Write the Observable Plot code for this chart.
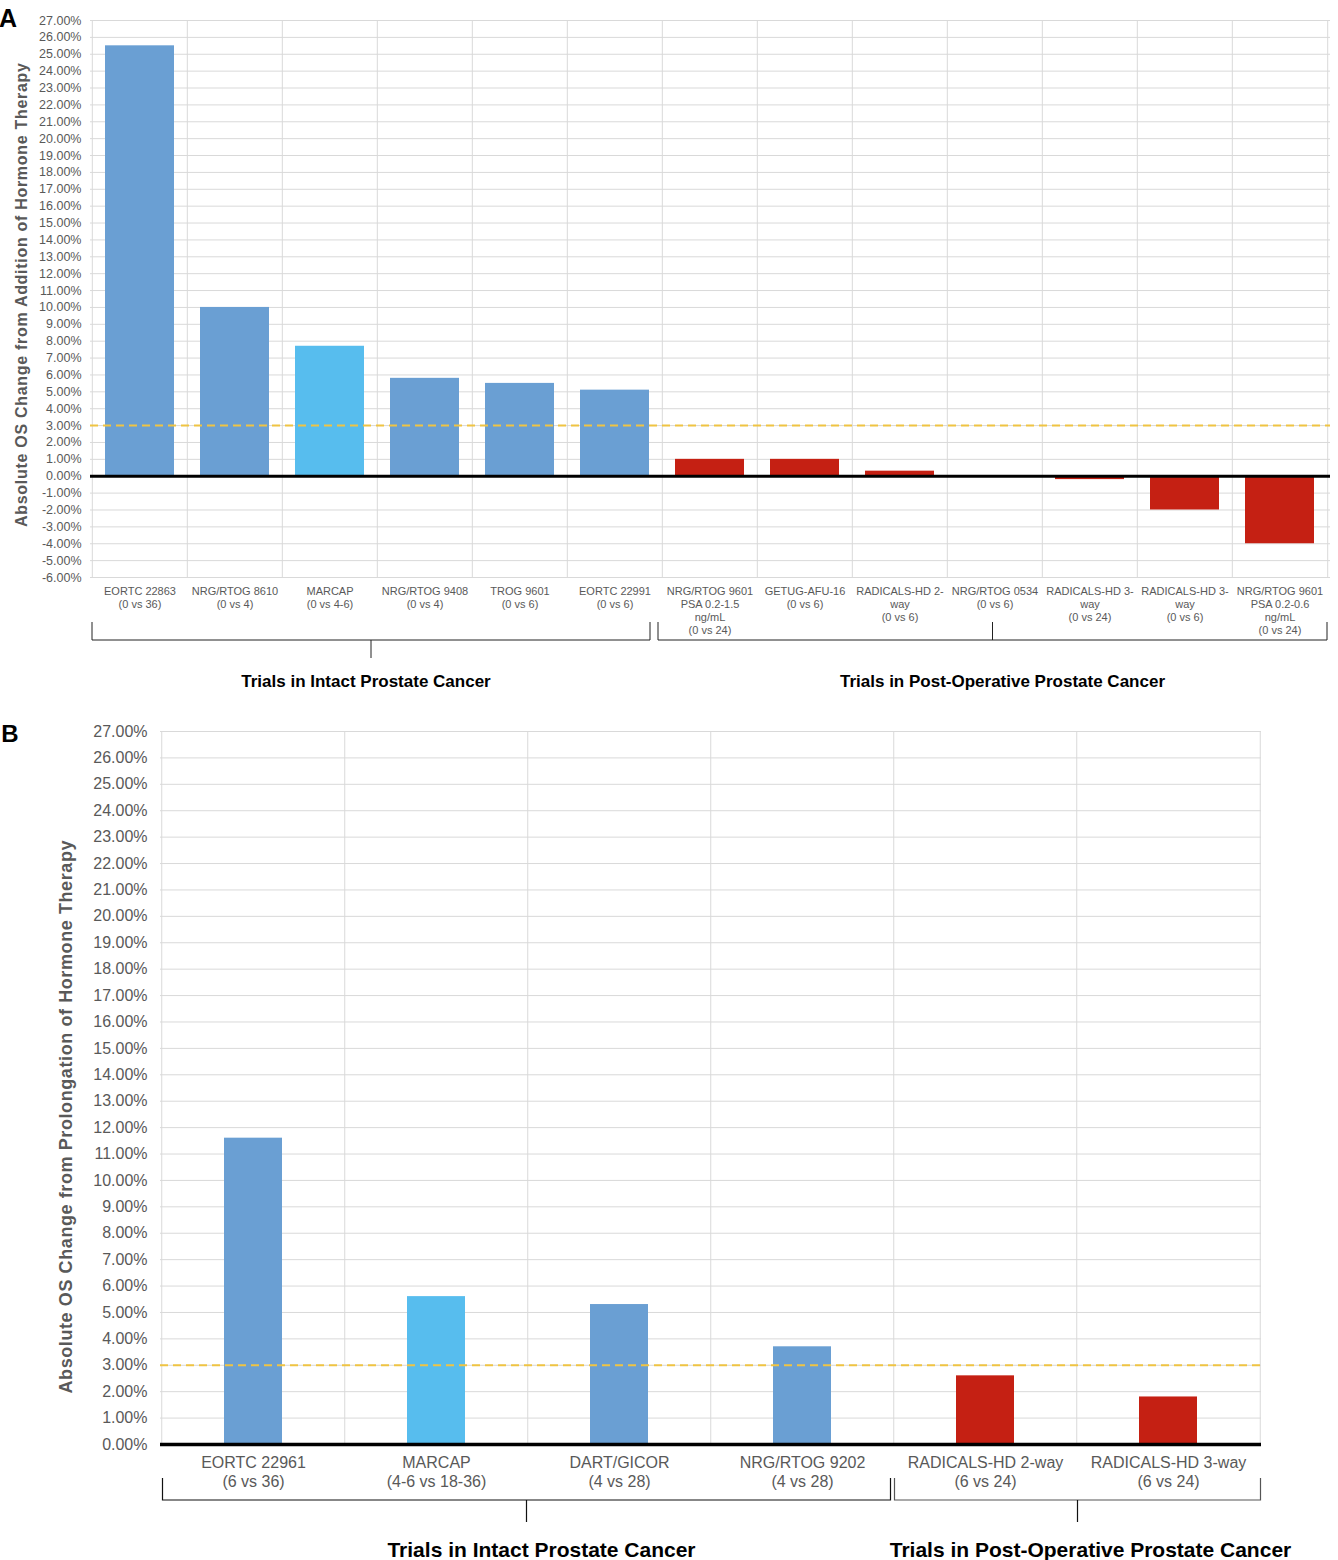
<!DOCTYPE html>
<html><head><meta charset="utf-8">
<script src="https://cdn.jsdelivr.net/npm/d3@7"></script>
<script src="https://cdn.jsdelivr.net/npm/@observablehq/plot@0.6"></script>
<style>
body{margin:0;background:#fff;font-family:"Liberation Sans",Arial,sans-serif;}
#wrap{position:relative;width:1338px;height:1560px;overflow:hidden;}
#a{position:absolute;left:0;top:0;}
#b{position:absolute;left:0;top:700px;}
</style></head><body><div id="wrap"><div id="a"></div><div id="b"></div></div>
<script>
// ---------- Panel A data ----------
const labelsA = [
  "EORTC 22863\n(0 vs 36)",
  "NRG/RTOG 8610\n(0 vs 4)",
  "MARCAP\n(0 vs 4-6)",
  "NRG/RTOG 9408\n(0 vs 4)",
  "TROG 9601\n(0 vs 6)",
  "EORTC 22991\n(0 vs 6)",
  "NRG/RTOG 9601\nPSA 0.2-1.5\nng/mL\n(0 vs 24)",
  "GETUG-AFU-16\n(0 vs 6)",
  "RADICALS-HD 2-\nway\n(0 vs 6)",
  "NRG/RTOG 0534\n(0 vs 6)",
  "RADICALS-HD 3-\nway\n(0 vs 24)",
  "RADICALS-HD 3-\nway\n(0 vs 6)",
  "NRG/RTOG 9601\nPSA 0.2-0.6\nng/mL\n(0 vs 24)"
];
const valuesA = [25.5, 10.0, 7.7, 5.8, 5.5, 5.1, 1.0, 1.0, 0.3, 0.0, -0.2, -2.0, -4.0];
const kindA = ["intact","intact","marcap","intact","intact","intact","postop","postop","postop","postop","postop","postop","postop"];
const yTicksA = [-6,-5,-4,-3,-2,-1,0,1,2,3,4,5,6,7,8,9,10,11,12,13,14,15,16,17,18,19,20,21,22,23,24,25,26,27];
const titleA = "Absolute OS Change from Addition of Hormone Therapy";
const groupLabels = ["Trials in Intact Prostate Cancer", "Trials in Post-Operative Prostate Cancer"];

// ---------- Panel B data ----------
const labelsB = [
  "EORTC 22961\n(6 vs 36)",
  "MARCAP\n(4-6 vs 18-36)",
  "DART/GICOR\n(4 vs 28)",
  "NRG/RTOG 9202\n(4 vs 28)",
  "RADICALS-HD 2-way\n(6 vs 24)",
  "RADICALS-HD 3-way\n(6 vs 24)"
];
const valuesB = [11.6, 5.6, 5.3, 3.7, 2.6, 1.8];
const kindB = ["intact","marcap","intact","intact","postop","postop"];
const yTicksB = [0,1,2,3,4,5,6,7,8,9,10,11,12,13,14,15,16,17,18,19,20,21,22,23,24,25,26,27];
const titleB = "Absolute OS Change from Prolongation of Hormone Therapy";

const threshold = [3];
const colorDomain = ["intact","marcap","postop"];
const colorRange = ["#6a9fd3","#57bdee","#c52013"];
const FONT = "'Liberation Sans', Arial, sans-serif";
const W = 1338;

function cellEdges(plot, labels){
  const xs = plot.scale("x");
  const bw = xs.bandwidth, st = xs.step;
  return labels.map(l => {
    const s = xs.apply(l);
    return [s - (st - bw)/2, s + bw + (st - bw)/2];
  });
}

// ---------- Panel A ----------
const mA = {top:20, right:8, bottom:123, left:90};
const HA = 700;
const stepA = (W - mA.left - mA.right) / labelsA.length;
const dataA = labelsA.map((l,i)=>({label:l, value:valuesA[i], kind:kindA[i]}));
const pA = Plot.plot({
  width: W, height: HA,
  marginTop: mA.top, marginRight: mA.right, marginBottom: mA.bottom, marginLeft: mA.left,
  style: {fontFamily: FONT, color: "#595959", background: "#fff", overflow: "visible"},
  x: {domain: labelsA, paddingInner: 0.27, paddingOuter: 0.135, label: null},
  y: {domain: [-6, 27], label: null},
  color: {domain: colorDomain, range: colorRange},
  marks: [
    Plot.ruleY(yTicksA, {stroke: "#d9d9d9", strokeWidth: 1}),
    Plot.ruleX(labelsA, {x: d => d, dx: -stepA/2, stroke: "#d9d9d9", strokeWidth: 1}),
    Plot.ruleX([labelsA[labelsA.length-1]], {x: d => d, dx: stepA/2, stroke: "#d9d9d9", strokeWidth: 1}),
    Plot.barY(dataA, {x: "label", y: "value", fill: "kind"}),
    Plot.ruleY(threshold, {stroke: "#efc443", strokeWidth: 2, strokeDasharray: "8,5"}),
    Plot.ruleY([0], {stroke: "#000", strokeWidth: 3}),
    Plot.axisY({ticks: yTicksA, tickFormat: d => d.toFixed(2) + "%", tickSize: 0, tickPadding: 9, fontSize: 12.5, label: null, fill: "#595959"}),
    Plot.axisX({tickSize: 0, tickPadding: 8, fontSize: 11, lineHeight: 1.2, label: null, fill: "#595959"})
  ]
});
document.getElementById("a").appendChild(pA);

(function(){
  const svg = d3.select(pA);
  const edges = cellEdges(pA, labelsA);
  const yb = pA.scale("y").apply(-6);
  const yH = yb + 63, yV = yb + 45, yT = yb + 81;
  const g = svg.append("g").attr("fill","none").attr("stroke","#222").attr("stroke-width",1);
  const i1 = edges[0][0], i2 = edges[6][0] - 12;
  const p1 = edges[6][0] - 4, p2 = edges[12][1];
  g.append("path").attr("d", `M${i1},${yV}V${yH}H${i2}V${yV}M${(i1+i2)/2},${yH}V${yT}`);
  g.append("path").attr("d", `M${p1},${yV}V${yH}H${p2}V${yV}M${(p1+p2)/2},${yH}V${yV}`);
  const t = svg.append("g").attr("font-family", FONT).attr("font-weight","bold").attr("font-size",17).attr("fill","#000").attr("text-anchor","middle");
  t.append("text").attr("x", (i1+i2)/2 - 5).attr("y", yb + 110).text(groupLabels[0]);
  t.append("text").attr("x", (p1+p2)/2 + 10).attr("y", yb + 110).text(groupLabels[1]);
  svg.append("text").attr("x", 8).attr("y", 27).attr("font-family", FONT).attr("font-weight","bold").attr("font-size",25).attr("fill","#000").text("A");
  svg.append("text").attr("transform", `translate(27,295) rotate(-90)`).attr("text-anchor","middle")
    .attr("textLength", 464).attr("lengthAdjust", "spacing")
    .attr("font-family", FONT).attr("font-weight","bold").attr("font-size",16).attr("fill","#595959").text(titleA);
})();

// ---------- Panel B ----------
const mB = {top:31, right:77, bottom:116, left:160};
const HB = 860;
const stepB = (W - mB.left - mB.right) / labelsB.length;
const dataB = labelsB.map((l,i)=>({label:l, value:valuesB[i], kind:kindB[i]}));
const pB = Plot.plot({
  width: W, height: HB,
  marginTop: mB.top, marginRight: mB.right, marginBottom: mB.bottom, marginLeft: mB.left,
  style: {fontFamily: FONT, color: "#595959", background: "#fff", overflow: "visible"},
  x: {domain: labelsB, paddingInner: 0.684, paddingOuter: 0.342, label: null},
  y: {domain: [0, 27], label: null},
  color: {domain: colorDomain, range: colorRange},
  marks: [
    Plot.ruleY(yTicksB, {stroke: "#d9d9d9", strokeWidth: 1}),
    Plot.ruleX(labelsB, {x: d => d, dx: -stepB/2, stroke: "#d9d9d9", strokeWidth: 1}),
    Plot.ruleX([labelsB[labelsB.length-1]], {x: d => d, dx: stepB/2, stroke: "#d9d9d9", strokeWidth: 1}),
    Plot.barY(dataB, {x: "label", y: "value", fill: "kind"}),
    Plot.ruleY(threshold, {stroke: "#efc443", strokeWidth: 2, strokeDasharray: "8,5"}),
    Plot.ruleY([0], {stroke: "#000", strokeWidth: 3.5}),
    Plot.axisY({ticks: yTicksB, tickFormat: d => d.toFixed(2) + "%", tickSize: 0, tickPadding: 13, fontSize: 16, label: null, fill: "#595959"}),
    Plot.axisX({tickSize: 0, tickPadding: 10, fontSize: 16, lineHeight: 1.2, label: null, fill: "#595959"})
  ]
});
document.getElementById("b").appendChild(pB);

(function(){
  const svg = d3.select(pB);
  const edges = cellEdges(pB, labelsB);
  const yb = pB.scale("y").apply(0);
  const yH = yb + 56, yV = yb + 34, yT = yb + 78;
  const i1 = edges[0][0] + 1, i2 = edges[4][0] - 3;
  const p1 = edges[4][0] + 1, p2 = edges[5][1] + 1;
  svg.append("path").attr("fill","none").attr("stroke","#111").attr("stroke-width",1.2)
    .attr("d", `M${i1},${yV}V${yH}H${i2}V${yV}M${(i1+i2)/2},${yH}V${yT}`);
  svg.append("path").attr("fill","none").attr("stroke","#555").attr("stroke-width",1.2)
    .attr("d", `M${p1},${yV}V${yH}H${p2}V${yV}`);
  svg.append("path").attr("fill","none").attr("stroke","#111").attr("stroke-width",1.2)
    .attr("d", `M${(p1+p2)/2},${yH}V${yT}`);
  const t = svg.append("g").attr("font-family", FONT).attr("font-weight","bold").attr("font-size",21).attr("fill","#000").attr("text-anchor","middle");
  t.append("text").attr("x", (i1+i2)/2 + 15).attr("y", yb + 113).text(groupLabels[0]);
  t.append("text").attr("x", (p1+p2)/2 + 13).attr("y", yb + 113).text(groupLabels[1]);
  svg.append("text").attr("x", 10).attr("y", 42).attr("font-family", FONT).attr("font-weight","bold").attr("font-size",24).attr("fill","#000").text("B");
  svg.append("text").attr("transform", `translate(72,417) rotate(-90)`).attr("text-anchor","middle")
    .attr("textLength", 553).attr("lengthAdjust", "spacing")
    .attr("font-family", FONT).attr("font-weight","bold").attr("font-size",18).attr("fill","#595959").text(titleB);
})();
</script></body></html>
